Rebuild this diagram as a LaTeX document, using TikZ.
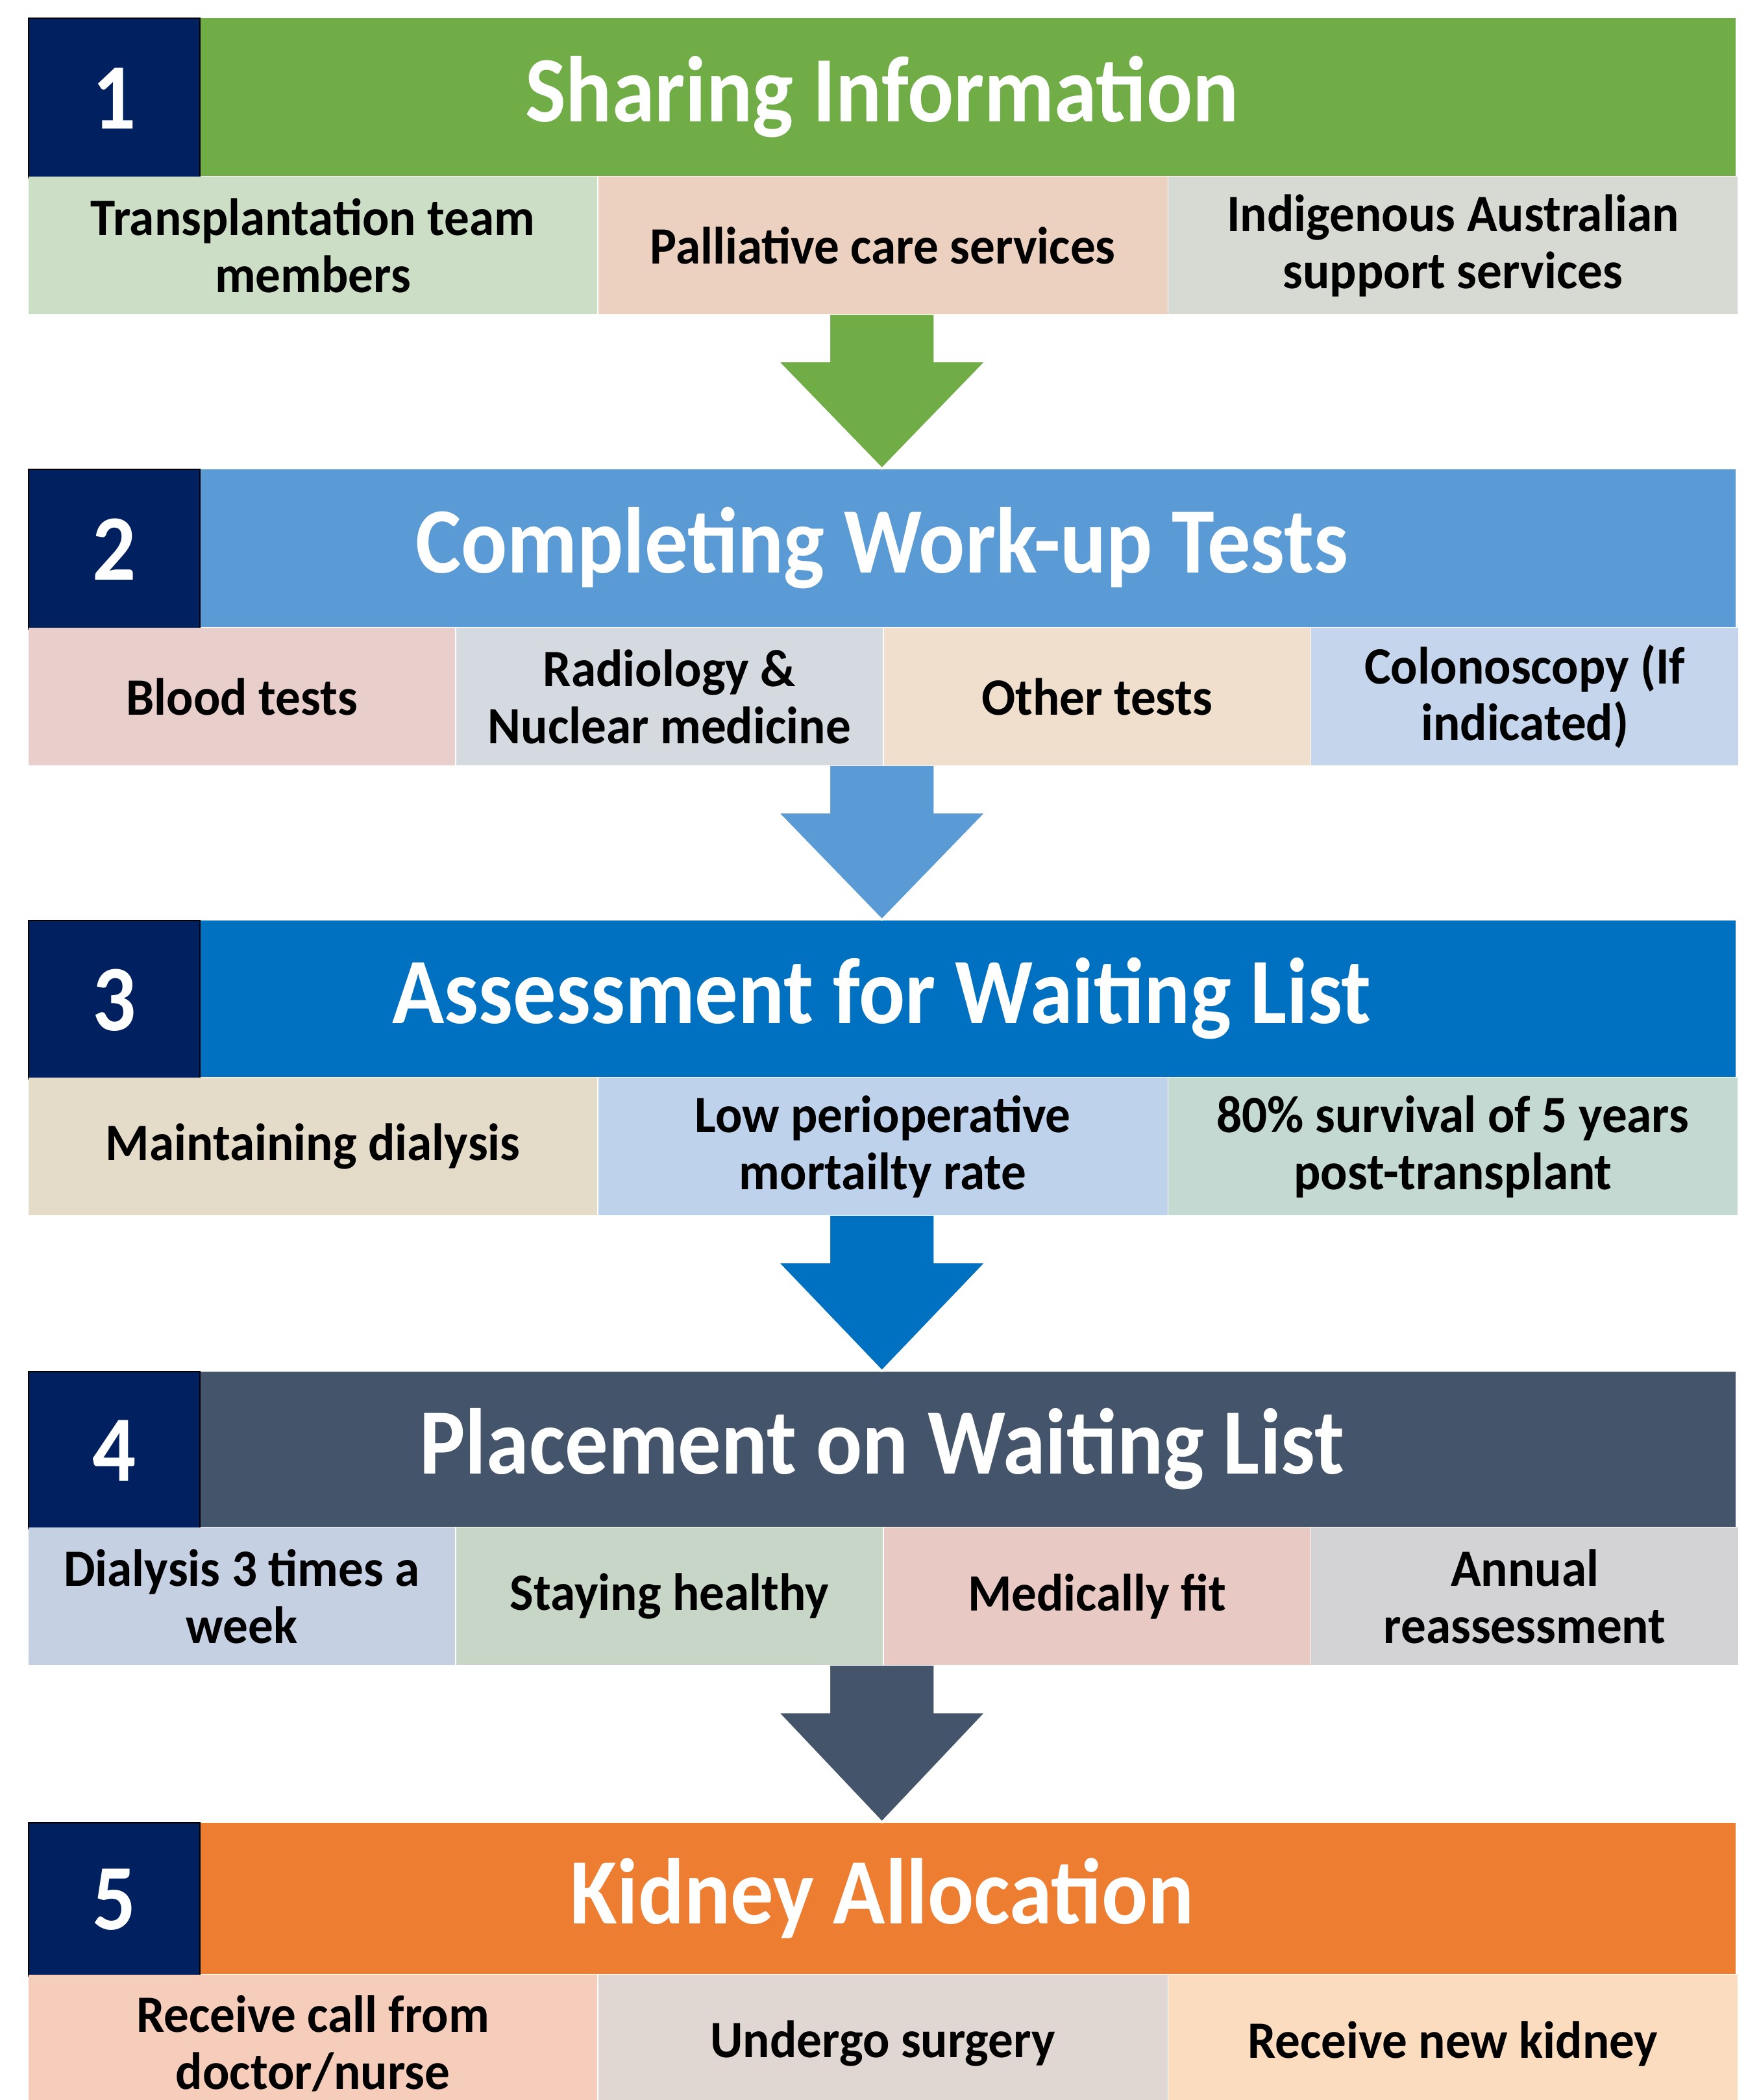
\documentclass[tikz,border=0pt]{standalone}
\usepackage{fontspec}
\usetikzlibrary{positioning,calc}
\newfontfamily\calib{Carlito}[FakeStretch=0.92]
\newfontfamily\calibcell{Carlito}[FakeStretch=0.955]

\definecolor{navy}{HTML}{002060}
\definecolor{stepA}{HTML}{70AD47}
\definecolor{stepB}{HTML}{5B9BD5}
\definecolor{stepC}{HTML}{0070C0}
\definecolor{stepD}{HTML}{44546A}
\definecolor{stepE}{HTML}{ED7D31}
\definecolor{c1a}{HTML}{CCDEC5}
\definecolor{c1b}{HTML}{ECD1C0}
\definecolor{c1c}{HTML}{D6DAD2}
\definecolor{c2a}{HTML}{E9CFCB}
\definecolor{c2b}{HTML}{D5DAE1}
\definecolor{c2c}{HTML}{EFDFCC}
\definecolor{c2d}{HTML}{C5D5EB}
\definecolor{c3a}{HTML}{E4DBC9}
\definecolor{c3b}{HTML}{BED3EB}
\definecolor{c3c}{HTML}{C3D9D1}
\definecolor{c4a}{HTML}{C5D0E3}
\definecolor{c4b}{HTML}{C8D6C8}
\definecolor{c4c}{HTML}{E8C9C3}
\definecolor{c4d}{HTML}{D3D3D5}
\definecolor{c5a}{HTML}{F6CDBA}
\definecolor{c5b}{HTML}{E0D6D2}
\definecolor{c5c}{HTML}{FCDCBE}

\tikzset{
  band/.style={fill=#1, anchor=north west, minimum width=26.3cm,
    inner sep=0pt, text=white, font=\calib\bfseries\fontsize{41}{49}\selectfont},
  numbox/.style={fill=navy, draw=black, line width=0.7pt, anchor=north west,
    minimum width=2.64cm, inner sep=0pt, text=white,
    font=\calib\bfseries\fontsize{41}{49}\selectfont},
  cell/.style={fill=#1, minimum height=2.12cm, inner sep=0pt, align=center,
    font=\calibcell\bfseries\fontsize{23}{25}\selectfont},
  wide/.style={cell=#1, minimum width=8.767cm},
  narrow/.style={cell=#1, minimum width=6.575cm},
  flow/.style={fill=#1, draw=white, line width=0.8pt},
}

\begin{document}
\begin{tikzpicture}
  \useasboundingbox (0,0) rectangle (27.10,-32.35);
  \clip (0,0) rectangle (27.10,-32.35);
  \fill[white] (0,0) rectangle (27.10,-32.35);

  % stage headers
  \foreach \k/\col/\hgt/\title in {1/stepA/2.43/Sharing Information,
      2/stepB/2.43/Completing Work-up Tests, 3/stepC/2.41/Assessment for Waiting List,
      4/stepD/2.39/Placement on Waiting List, 5/stepE/2.33/Kidney Allocation}{
    \node[band=\col, minimum height=\hgt cm] (h\k) at (0.43, {-0.27-6.95*(\k-1)}) {\title};
    \node[numbox, minimum height=\hgt cm+0.03cm] (n\k) at (h\k.north west) {\k};
  }

  % 1
  \node[wide=c1a, anchor=north west] (s11) at (h1.south west) {Transplantation team\\members};
  \node[wide=c1b, right=0pt of s11] (s12) {Palliative care services};
  \node[wide=c1c, right=0pt of s12] (s13) {Indigenous Australian\\support services};
  % 2
  \node[narrow=c2a, anchor=north west] (s21) at (h2.south west) {Blood tests};
  \node[narrow=c2b, right=0pt of s21] (s22) {Radiology \&\\Nuclear medicine};
  \node[narrow=c2c, right=0pt of s22] (s23) {Other tests};
  \node[narrow=c2d, right=0pt of s23] (s24) {Colonoscopy (If\\indicated)};
  % 3
  \node[wide=c3a, anchor=north west] (s31) at (h3.south west) {Maintaining dialysis};
  \node[wide=c3b, right=0pt of s31] (s32) {Low perioperative\\mortailty rate};
  \node[wide=c3c, right=0pt of s32] (s33) {80\% survival of 5 years\\post-transplant};
  % 4
  \node[narrow=c4a, anchor=north west] (s41) at (h4.south west) {Dialysis 3 times a\\week};
  \node[narrow=c4b, right=0pt of s41] (s42) {Staying healthy};
  \node[narrow=c4c, right=0pt of s42] (s43) {Medically fit};
  \node[narrow=c4d, right=0pt of s43] (s44) {Annual\\reassessment};
  % 5
  \node[wide=c5a, anchor=north west] (s51) at (h5.south west) {Receive call from\\doctor/nurse};
  \node[wide=c5b, right=0pt of s51] (s52) {Undergo surgery};
  \node[wide=c5c, right=0pt of s52] (s53) {Receive new kidney};

  % block arrows between stages
  \foreach \k/\nxt/\col in {1/2/stepA, 2/3/stepB, 3/4/stepC, 4/5/stepD}{
    \coordinate (a\k) at (h\k.center |- s\k1.south);
    \filldraw[flow=\col] ($(a\k)+(-0.81,0)$) -- ++(0,-0.72) -- ++(-0.79,0)
      -- (h\nxt.north) -- ($(a\k)+(1.6,-0.72)$) -- ++(-0.79,0) -- ++(0,0.72);
  }
\end{tikzpicture}
\end{document}
